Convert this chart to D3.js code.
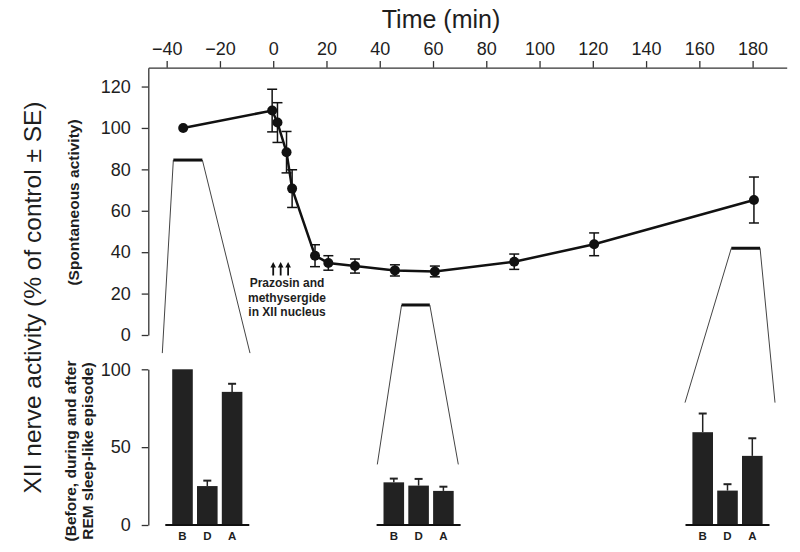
<!DOCTYPE html>
<html>
<head>
<meta charset="utf-8">
<script src="https://cdn.jsdelivr.net/npm/d3@7"></script>
<style>
  html, body { margin: 0; padding: 0; background: #fff; }
  svg { display: block; font-family: "Liberation Sans", Arial, Helvetica, sans-serif; }
</style>
</head>
<body>
<svg id="chart" width="800" height="552"></svg>
<script>
// ---------------- DATA ----------------
// Main time course (spontaneous activity)
const timePoints = [-33.8, -0.4, 1.6, 5.0, 7.1, 15.7, 20.7, 30.7, 45.7, 60.7, 90.5, 120.5, 180.5];
const activity   = [100, 108.4, 102.6, 88.3, 70.7, 38.3, 34.8, 33.3, 31.2, 30.7, 35.4, 43.8, 65.2];
const activitySE = [0, 10.3, 9.6, 10.0, 9.1, 5.3, 3.5, 3.4, 2.7, 2.6, 3.7, 5.5, 11.1];

const xTicks = [-40, -20, 0, 20, 40, 60, 80, 100, 120, 140, 160, 180];
const yTicks = [0, 20, 40, 60, 80, 100, 120];

// Drug injection arrows (min)
const injectionTimes = [0, 2.8, 5.6];
const injectionLines = ["Prazosin and", "methysergide", "in XII nucleus"];

// REM sleep-like episodes: before (B), during (D), after (A)
const remLabels = ["B", "D", "A"];
const remWindows = [[-37.5, -26.6], [48.2, 58.8], [172.0, 182.8]];
const rem1Values = [100, 25.0, 85.5];
const rem1SE     = [0, 3.5, 5.2];
const rem2Values = [27.4, 25.3, 21.9];
const rem2SE     = [2.4, 4.3, 2.7];
const rem3Values = [59.6, 22.1, 44.4];
const rem3SE     = [12.0, 4.1, 11.3];
const remTicks = [0, 50, 100];

// ---------------- LAYOUT ----------------
const svg = d3.select("#chart");
const ink = "#1e1e1e";

const x = d3.scaleLinear().domain([-46.9, 192.8]).range([148.3, 786.7]);
const y = d3.scaleLinear().domain([0, 129.1]).range([335, 67.7]);
const yi = d3.scaleLinear().domain([0, 100]).range([525, 369.3]);

// inset layout (pixel positions of the three small bar charts)
const insets = [
  { cx: 207.3, values: rem1Values, se: rem1SE, win: remWindows[0], level: 84.5, botL: -45.0, botR: 42.7, botV: 110.4 },
  { cx: 418.6, values: rem2Values, se: rem2SE, win: remWindows[1], level: 14.5, botL: -41.3, botR: 39.7, botV: 38.9 },
  { cx: 727.5, values: rem3Values, se: rem3SE, win: remWindows[2], level: 41.9, botL: -42.5, botR: 47.5, botV: 78.6 }
];

// ---------------- AXES ----------------
function styleAxis(g) {
  g.selectAll("path.domain").attr("stroke", "#333").attr("stroke-width", 1.3);
  g.selectAll(".tick line").attr("stroke", "#333").attr("stroke-width", 1.3);
  g.selectAll(".tick text").attr("fill", ink).style("font-size", "18px")
    .style("font-family", "'Liberation Sans', Arial, sans-serif");
}

svg.append("g")
  .attr("transform", "translate(0,67.7)")
  .call(d3.axisTop(x).tickValues(xTicks).tickSize(6.6).tickSizeOuter(0).tickPadding(6))
  .call(styleAxis);

svg.append("g")
  .attr("transform", "translate(148.3,0)")
  .call(d3.axisLeft(y).tickValues(yTicks).tickSize(6.6).tickSizeOuter(0).tickPadding(11))
  .call(styleAxis);

svg.append("g")
  .attr("transform", "translate(148.3,0)")
  .call(d3.axisLeft(yi).tickValues(remTicks).tickSize(6.6).tickSizeOuter(0).tickPadding(11))
  .call(styleAxis);

// titles
svg.append("text")
  .attr("x", 441).attr("y", 28)
  .attr("text-anchor", "middle")
  .style("font-size", "25px").attr("fill", ink)
  .text("Time (min)");

svg.append("text")
  .attr("transform", "translate(41,297.5) rotate(-90)")
  .attr("text-anchor", "middle")
  .style("font-size", "24.5px").attr("fill", ink)
  .text("XII nerve activity (% of control ± SE)");

svg.append("text")
  .attr("transform", "translate(79,202.5) rotate(-90)")
  .attr("text-anchor", "middle")
  .style("font-size", "15.5px").style("font-weight", "bold").attr("fill", ink)
  .text("(Spontaneous activity)");

const sub = svg.append("text")
  .attr("transform", "translate(0,451) rotate(-90)")
  .attr("text-anchor", "middle")
  .style("font-size", "15.5px").style("font-weight", "bold").attr("fill", ink);
sub.append("tspan").attr("x", 0).attr("y", 76).text("(Before, during and after");
sub.append("tspan").attr("x", 0).attr("y", 92.5).text("REM sleep-like episode)");

// ---------------- CONNECTORS (episode windows -> insets) ----------------
insets.forEach(ins => {
  const xl = x(ins.win[0]), xr = x(ins.win[1]), yt = y(ins.level);
  const yb = yi(ins.botV);
  svg.append("line")
    .attr("x1", xl).attr("x2", ins.cx + ins.botL).attr("y1", yt).attr("y2", yb)
    .attr("stroke", "#444").attr("stroke-width", 1);
  svg.append("line")
    .attr("x1", xr).attr("x2", ins.cx + ins.botR).attr("y1", yt).attr("y2", yb)
    .attr("stroke", "#444").attr("stroke-width", 1);
  svg.append("line")
    .attr("x1", xl).attr("x2", xr).attr("y1", yt).attr("y2", yt)
    .attr("stroke", "#111").attr("stroke-width", 3);
});

// ---------------- MAIN SERIES ----------------
const pts = timePoints.map((t, i) => ({ t, v: activity[i], se: activitySE[i] }));

const eb = svg.append("g").attr("stroke", "#111").attr("stroke-width", 1.5);
pts.filter(d => d.se > 0).forEach(d => {
  const cx = x(d.t);
  eb.append("line").attr("x1", cx).attr("x2", cx).attr("y1", y(d.v + d.se)).attr("y2", y(d.v - d.se));
  eb.append("line").attr("x1", cx - 5).attr("x2", cx + 5).attr("y1", y(d.v + d.se)).attr("y2", y(d.v + d.se));
  eb.append("line").attr("x1", cx - 5).attr("x2", cx + 5).attr("y1", y(d.v - d.se)).attr("y2", y(d.v - d.se));
});

svg.append("path")
  .datum(pts)
  .attr("fill", "none").attr("stroke", "#111").attr("stroke-width", 2.5)
  .attr("d", d3.line().x(d => x(d.t)).y(d => y(d.v)));

svg.append("g").selectAll("circle").data(pts).join("circle")
  .attr("cx", d => x(d.t)).attr("cy", d => y(d.v)).attr("r", 5)
  .attr("fill", "#111");

// ---------------- INJECTION ANNOTATION ----------------
const arr = svg.append("g").attr("fill", "#111").attr("stroke", "#111");
injectionTimes.forEach(t => {
  const ax = x(t);
  arr.append("line").attr("x1", ax).attr("x2", ax).attr("y1", 275.5).attr("y2", 266)
    .attr("stroke-width", 1.8);
  arr.append("path").attr("stroke", "none")
    .attr("d", `M${ax - 2.8},267.5 L${ax},262 L${ax + 2.8},267.5 Z`);
});
const ann = svg.append("text")
  .attr("text-anchor", "middle")
  .style("font-size", "12px").style("font-weight", "bold").attr("fill", ink);
injectionLines.forEach((s, i) => {
  ann.append("tspan").attr("x", 287).attr("y", [287.3, 301.8, 315.6][i]).text(s);
});

// ---------------- INSET BAR CHARTS ----------------
insets.forEach(ins => {
  const bx = d3.scaleBand().domain(remLabels)
    .range([ins.cx - 37.2, ins.cx + 37.2]).paddingInner(0.17).paddingOuter(0.085);
  const g = svg.append("g");
  const rows = remLabels.map((k, i) => ({ k, v: ins.values[i], se: ins.se[i] }));
  // error bars (upper half only)
  rows.filter(d => d.se > 0).forEach(d => {
    const cx = bx(d.k) + bx.bandwidth() / 2;
    g.append("line").attr("x1", cx).attr("x2", cx).attr("y1", yi(d.v)).attr("y2", yi(d.v + d.se))
      .attr("stroke", "#222").attr("stroke-width", 1.5);
    g.append("line").attr("x1", cx - 4).attr("x2", cx + 4).attr("y1", yi(d.v + d.se)).attr("y2", yi(d.v + d.se))
      .attr("stroke", "#222").attr("stroke-width", 2);
  });
  g.selectAll("rect").data(rows).join("rect")
    .attr("x", d => bx(d.k)).attr("width", bx.bandwidth())
    .attr("y", d => yi(d.v)).attr("height", d => yi(0) - yi(d.v))
    .attr("fill", "#222");
  g.append("line")
    .attr("x1", ins.cx - 42).attr("x2", ins.cx + 42).attr("y1", yi(0)).attr("y2", yi(0))
    .attr("stroke", "#111").attr("stroke-width", 2);
  g.selectAll("text.lab").data(rows).join("text").attr("class", "lab")
    .attr("x", d => bx(d.k) + bx.bandwidth() / 2).attr("y", 540)
    .attr("text-anchor", "middle")
    .style("font-size", "11.5px").style("font-weight", "bold").attr("fill", ink)
    .text(d => d.k);
});
</script>
</body>
</html>
